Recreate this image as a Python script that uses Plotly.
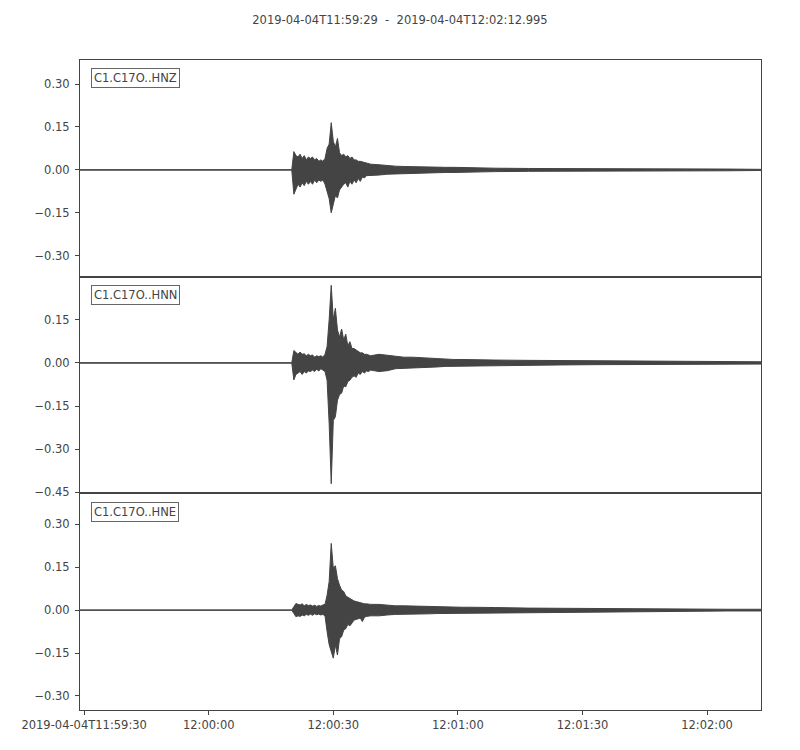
import pandas as pd
import plotly.graph_objects as go
from plotly.subplots import make_subplots

# ---------------- data ----------------
start = "2019-04-04T11:59:29"
end = "2019-04-04T12:02:12.995"
title_text = "2019-04-04T11:59:29\u00a0\u00a0-\u00a0\u00a02019-04-04T12:02:12.995"

channels = ["C1.C17O..HNZ", "C1.C17O..HNN", "C1.C17O..HNE"]

# seconds after start; envelope (max / min per bin) of each trace
times = [0, 51.0,
         51.5, 52.0, 52.5, 53.0, 53.5, 54.0, 54.5, 55.0, 55.5, 56.0,
         56.5, 57.0, 57.5, 58.0, 58.5, 59.0, 59.5, 60.0, 60.5, 61.0,
         61.5, 62.0, 62.5, 63.0, 63.5, 64.0, 64.5, 65.0, 65.5, 66.0,
         66.5, 67.0, 67.5, 68.0, 68.5, 69.0, 69.5, 70.0,
         72, 74, 76, 78, 80, 82, 84, 86, 88, 90, 92, 94, 96, 98, 100,
         108, 116, 124, 132, 140, 148, 156, 163.99]

hnz_max = [0.0008, 0.0008,
           0.064, 0.05, 0.045, 0.055, 0.04, 0.05, 0.035, 0.045, 0.04, 0.045,
           0.035, 0.04, 0.03, 0.035, 0.03, 0.04, 0.075, 0.09, 0.165, 0.10,
           0.08, 0.11, 0.06, 0.05, 0.055, 0.045, 0.05, 0.04, 0.045, 0.035,
           0.035, 0.03, 0.03, 0.028, 0.025, 0.022, 0.02, 0.02,
           0.018, 0.015, 0.013, 0.012, 0.011, 0.01, 0.01, 0.01, 0.009, 0.009,
           0.008, 0.008, 0.007, 0.007, 0.006,
           0.005, 0.005, 0.004, 0.004, 0.003, 0.003, 0.003, 0.002]
hnz_min = [-0.0008, -0.0008,
           -0.085, -0.07, -0.05, -0.06, -0.045, -0.055, -0.04, -0.05, -0.04, -0.05,
           -0.035, -0.045, -0.035, -0.04, -0.035, -0.05, -0.07, -0.10, -0.15, -0.12,
           -0.09, -0.098, -0.07, -0.06, -0.05, -0.045, -0.06, -0.04, -0.05, -0.035,
           -0.045, -0.03, -0.04, -0.025, -0.028, -0.02, -0.022, -0.02,
           -0.018, -0.015, -0.013, -0.012, -0.011, -0.01, -0.01, -0.01, -0.009, -0.009,
           -0.008, -0.008, -0.007, -0.007, -0.006,
           -0.005, -0.005, -0.004, -0.004, -0.003, -0.003, -0.003, -0.002]

hnn_max = [0.0008, 0.0008,
           0.043, 0.035, 0.03, 0.038, 0.03, 0.032, 0.025, 0.03, 0.025, 0.028,
           0.02, 0.025, 0.022, 0.025, 0.02, 0.03, 0.057, 0.15, 0.27, 0.15,
           0.19, 0.115, 0.09, 0.118, 0.08, 0.10, 0.06, 0.074, 0.05, 0.05,
           0.045, 0.04, 0.035, 0.035, 0.03, 0.03, 0.028, 0.025,
           0.03, 0.027, 0.022, 0.02, 0.02, 0.018, 0.018, 0.016, 0.013, 0.012,
           0.012, 0.011, 0.011, 0.01, 0.01,
           0.009, 0.008, 0.007, 0.006, 0.006, 0.005, 0.005, 0.004]
hnn_min = [-0.0008, -0.0008,
           -0.059, -0.04, -0.035, -0.03, -0.04, -0.03, -0.035, -0.028, -0.03, -0.025,
           -0.03, -0.022, -0.028, -0.02, -0.025, -0.03, -0.06, -0.21, -0.42, -0.2,
           -0.187, -0.13, -0.11, -0.105, -0.08, -0.083, -0.065, -0.06, -0.05, -0.045,
           -0.05, -0.035, -0.04, -0.03, -0.035, -0.028, -0.03, -0.025,
           -0.03, -0.027, -0.02, -0.018, -0.017, -0.016, -0.015, -0.014, -0.012, -0.01,
           -0.01, -0.01, -0.009, -0.009, -0.008,
           -0.008, -0.007, -0.006, -0.006, -0.005, -0.005, -0.004, -0.004]

hne_max = [0.0008, 0.0008,
           0.012, 0.023, 0.02, 0.018, 0.022, 0.015, 0.02, 0.016, 0.018, 0.014,
           0.017, 0.013, 0.016, 0.014, 0.018, 0.02, 0.052, 0.099, 0.233, 0.146,
           0.155, 0.11, 0.087, 0.07, 0.065, 0.05, 0.045, 0.04, 0.035, 0.032,
           0.03, 0.028, 0.025, 0.025, 0.022, 0.022, 0.02, 0.02,
           0.02, 0.017, 0.015, 0.015, 0.014, 0.013, 0.013, 0.012, 0.012, 0.011,
           0.01, 0.01, 0.01, 0.009, 0.009,
           0.007, 0.006, 0.005, 0.005, 0.004, 0.004, 0.003, 0.003]
hne_min = [-0.0008, -0.0008,
           -0.012, -0.023, -0.02, -0.022, -0.017, -0.02, -0.015, -0.018, -0.014, -0.018,
           -0.013, -0.016, -0.014, -0.017, -0.015, -0.02, -0.075, -0.12, -0.145, -0.168,
           -0.122, -0.157, -0.1, -0.093, -0.07, -0.065, -0.05, -0.055, -0.045, -0.035,
           -0.032, -0.03, -0.028, -0.04, -0.025, -0.022, -0.02, -0.02,
           -0.02, -0.017, -0.015, -0.015, -0.014, -0.013, -0.013, -0.012, -0.012, -0.011,
           -0.01, -0.01, -0.01, -0.009, -0.009,
           -0.007, -0.006, -0.005, -0.005, -0.004, -0.004, -0.003, -0.003]

env_max = [hnz_max, hnn_max, hne_max]
env_min = [hnz_min, hnn_min, hne_min]

y_ranges = [[-0.373, 0.384], [-0.4535, 0.300], [-0.349, 0.408]]
y_ticks = [[0.30, 0.15, 0.0, -0.15, -0.30],
           [0.15, 0.0, -0.15, -0.30, -0.45],
           [0.30, 0.15, 0.0, -0.15, -0.30]]

x_tick_vals = ["2019-04-04T11:59:30", "2019-04-04T12:00:00", "2019-04-04T12:00:30",
               "2019-04-04T12:01:00", "2019-04-04T12:01:30", "2019-04-04T12:02:00"]
x_tick_text = ["2019-04-04T11:59:30", "12:00:00", "12:00:30",
               "12:01:00", "12:01:30", "12:02:00"]

# ---------------- figure ----------------
INK = "#444444"
FONT = "DejaVu Sans"
FS = 11.5

t0 = pd.Timestamp(start)
tx = [t0 + pd.to_timedelta(s, unit="s") for s in times]

fig = make_subplots(rows=3, cols=1, shared_xaxes=True, vertical_spacing=0)

for i in range(3):
    assert len(env_max[i]) == len(times) and len(env_min[i]) == len(times)
    xs = tx + tx[::-1]
    ys = list(env_max[i]) + list(env_min[i])[::-1]
    fig.add_trace(go.Scatter(x=xs, y=ys, mode="lines", fill="toself",
                             fillcolor=INK, line=dict(color=INK, width=1),
                             hoverinfo="skip", showlegend=False),
                  row=i + 1, col=1)

    fig.update_yaxes(range=y_ranges[i], tickvals=y_ticks[i], tickformat=".2f",
                     showgrid=False, zeroline=False, showline=True, mirror=True,
                     linecolor=INK, linewidth=1, ticks="outside", ticklen=4,
                     tickcolor=INK, tickfont=dict(family=FONT, size=FS, color=INK),
                     ticklabelstandoff=3, row=i + 1, col=1)

    fig.update_xaxes(range=[pd.Timestamp(start), pd.Timestamp(end)], type="date",
                     showgrid=False, zeroline=False, showline=True, mirror=True,
                     linecolor=INK, linewidth=1, row=i + 1, col=1)

    yref = "y domain" if i == 0 else f"y{i + 1} domain"
    xref = "x domain" if i == 0 else f"x{i + 1} domain"
    fig.add_annotation(text=channels[i], xref=xref, yref=yref, x=0.0155, y=0.962,
                       xanchor="left", yanchor="top", showarrow=False,
                       font=dict(family=FONT, size=FS, color=INK),
                       bgcolor="white", bordercolor="#666666", borderwidth=1,
                       borderpad=2)

fig.update_xaxes(tickvals=x_tick_vals, ticktext=x_tick_text, ticks="outside",
                 ticklen=4, tickcolor=INK,
                 tickfont=dict(family=FONT, size=FS, color=INK), row=3, col=1)

# the page body adds an 8 px offset, compensate in the margins
fig.update_layout(
    width=800, height=750,
    margin=dict(l=72, r=47, t=52, b=48),
    paper_bgcolor="white", plot_bgcolor="white",
    title=dict(text=title_text, x=(400 - 8) / 800, xref="container", xanchor="center",
               y=1 - 12 / 750, yref="container", yanchor="middle",
               font=dict(family=FONT, size=FS, color=INK)),
    font=dict(family=FONT, color=INK),
)

fig.write_html("out.html")
